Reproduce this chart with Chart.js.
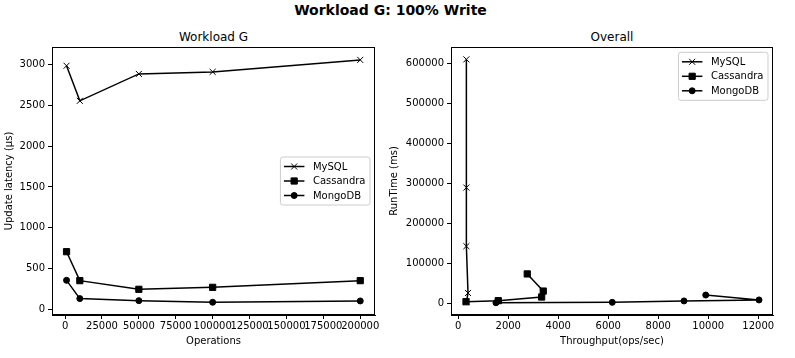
<!DOCTYPE html>
<html><head><meta charset="utf-8">
<script src="https://cdn.jsdelivr.net/npm/chart.js@4.4.1/dist/chart.umd.min.js"></script>
<style>
html,body{margin:0;padding:0;background:#fff;}
body{width:795px;height:358px;position:relative;overflow:hidden;font-family:"DejaVu Sans",sans-serif;}
canvas{position:absolute;top:0;}
#c1{left:0}
#c2{left:385px}
.t{position:absolute;color:#000;white-space:nowrap;transform:translate(-50%,-50%);line-height:1;}
</style></head><body>
<div class="t" style="left:390.5px;top:9.5px;font-weight:bold;font-size:14px">Workload G: 100% Write</div>
<div class="t" style="left:213.5px;top:37px;font-size:12px">Workload G</div>
<div class="t" style="left:612px;top:37px;font-size:12px">Overall</div>
<canvas id="c1" width="397" height="358"></canvas>
<canvas id="c2" width="410" height="358"></canvas>
<script>
// ---- data ----
const seriesNames = ['MySQL', 'Cassandra', 'MongoDB'];
const operations = [1000, 10000, 50000, 100000, 200000];
const mysqlLatency = [2985, 2555, 2885, 2910, 3057];
const cassandraLatency = [706, 351, 245, 269, 351];
const mongoLatency = [355, 131, 106, 86, 102];

const mysqlThroughput = [330, 390, 325, 325, 325];
const mysqlRuntime = [3200, 25200, 142600, 289500, 611000];
const cassandraThroughput = [310, 1600, 3336, 3400, 2760];
const cassandraRuntime = [3300, 6000, 15100, 30000, 73000];
const mongoThroughput = [1508, 6160, 9030, 12030, 9900];
const mongoRuntime = [660, 1700, 5300, 7800, 20100];

const opsTicks = [0, 25000, 50000, 75000, 100000, 125000, 150000, 175000, 200000];
const latencyTicks = [0, 500, 1000, 1500, 2000, 2500, 3000];
const throughputTicks = [0, 2000, 4000, 6000, 8000, 10000, 12000];
const runtimeTicks = [0, 100000, 200000, 300000, 400000, 500000, 600000];

// ---- styling ----
const FONT = '"DejaVu Sans", sans-serif';
Chart.defaults.font.family = FONT;
Chart.defaults.color = '#000';

const markerStyles = [
  {pointStyle: 'crossRot', pointRadius: 4.25},
  {pointStyle: 'rect', pointRadius: 4.4},
  {pointStyle: 'circle', pointRadius: 3}
];

function makeDatasets(xs, ys) {
  return seriesNames.map((name, i) => ({
    label: name,
    data: xs[i].map((x, j) => ({x: x, y: ys[i][j]})),
    showLine: true,
    borderColor: '#000',
    borderWidth: 1.5,
    backgroundColor: '#000',
    pointBackgroundColor: '#000',
    pointBorderColor: '#000',
    pointBorderWidth: 1,
    pointStyle: markerStyles[i].pointStyle,
    pointRadius: markerStyles[i].pointRadius,
    pointHoverRadius: markerStyles[i].pointRadius,
    tension: 0
  }));
}

function drawMarker(ctx, style, x, y) {
  ctx.beginPath();
  if (style === 'circle') {
    ctx.arc(x, y, 3, 0, Math.PI * 2);
    ctx.fill(); ctx.stroke();
  } else if (style === 'rect') {
    ctx.rect(x - 3.1, y - 3.1, 6.2, 6.2);
    ctx.fill(); ctx.stroke();
  } else {
    ctx.moveTo(x - 3, y - 3); ctx.lineTo(x + 3, y + 3);
    ctx.moveTo(x + 3, y - 3); ctx.lineTo(x - 3, y + 3);
    ctx.stroke();
  }
}

const framePlugin = {
  id: 'frame',
  afterDraw(chart, args, opts) {
    const ctx = chart.ctx, ca = chart.chartArea;
    ctx.save();
    ctx.strokeStyle = '#000';
    ctx.lineWidth = 1;
    ctx.strokeRect(Math.round(ca.left) + 0.5, Math.round(ca.top) + 0.5,
      Math.round(ca.right - ca.left) - 1, Math.round(ca.bottom - ca.top) - 1);
    // legend
    const items = chart.data.datasets;
    ctx.font = '10px ' + FONT;
    const tw = Math.max(...items.map(d => ctx.measureText(d.label).width));
    const pad = 4.5, handle = 20.5, gap = 7.5, rowH = 10, spacing = 4.5;
    const w = pad * 2 + handle + gap + tw;
    const h = pad * 2 + items.length * rowH + (items.length - 1) * spacing;
    const x = ca.right - 5 - w;
    const y = opts.loc === 'upper right' ? ca.top + 5.3 : (ca.top + ca.bottom) / 2 - h / 2;
    ctx.beginPath();
    if (ctx.roundRect) ctx.roundRect(x, y, w, h, 2.5); else ctx.rect(x, y, w, h);
    ctx.fillStyle = 'rgba(255,255,255,0.8)';
    ctx.fill();
    ctx.strokeStyle = '#cccccc';
    ctx.lineWidth = 1;
    ctx.stroke();
    items.forEach((d, i) => {
      const cy = y + pad + rowH / 2 + i * (rowH + spacing);
      ctx.strokeStyle = '#000';
      ctx.fillStyle = '#000';
      ctx.lineWidth = 1.5;
      ctx.beginPath();
      ctx.moveTo(x + pad - 1, cy); ctx.lineTo(x + pad + handle - 1, cy);
      ctx.stroke();
      ctx.lineWidth = 1;
      drawMarker(ctx, d.pointStyle, x + pad + handle / 2 - 1, cy);
      ctx.fillStyle = '#000';
      ctx.textBaseline = 'middle';
      ctx.textAlign = 'left';
      ctx.fillText(d.label, x + pad + handle + gap, cy + 0.5);
    });
    ctx.restore();
  }
};

function axis(opts) {
  return {
    type: 'linear',
    position: opts.position,
    min: opts.min,
    max: opts.max,
    afterBuildTicks: s => { s.ticks = opts.ticks.map(v => ({value: v})); },
    afterFit: opts.fit,
    ticks: {
      callback: v => String(v),
      autoSkip: false,
      maxRotation: 0,
      minRotation: 0,
      color: '#000',
      font: {size: 10, family: FONT},
      padding: opts.tickPad
    },
    grid: {
      display: true,
      drawOnChartArea: false,
      drawTicks: true,
      tickLength: 4,
      tickColor: '#000',
      tickWidth: 1
    },
    border: {display: true, color: '#000', width: 1},
    title: {
      display: true,
      text: opts.title,
      color: '#000',
      font: {size: 10, family: FONT},
      padding: opts.titlePad
    }
  };
}

function makeChart(id, datasets, xOpts, yOpts, rightPad, loc) {
  return new Chart(document.getElementById(id), {
    type: 'scatter',
    data: {datasets: datasets},
    options: {
      responsive: false,
      animation: false,
      devicePixelRatio: 1,
      layout: {padding: {top: 47, right: rightPad, left: 0, bottom: 0}},
      plugins: {legend: {display: false}, tooltip: {enabled: false}, frame: {loc: loc}},
      scales: {x: axis(xOpts), y: axis(yOpts)}
    },
    plugins: [framePlugin]
  });
}

makeChart('c1',
  makeDatasets([operations, operations, operations], [mysqlLatency, cassandraLatency, mongoLatency]),
  {position: 'bottom', min: -8850, max: 210000, ticks: opsTicks, title: 'Operations',
   tickPad: 1, titlePad: {top: 0, bottom: 11}, fit: s => { s.height = 43; }},
  {position: 'left', min: -70, max: 3215, ticks: latencyTicks, title: 'Update latency (μs)',
   tickPad: 3, titlePad: {top: 3.3, bottom: 0}, fit: s => { s.width = 52; }},
  22, 'center right');

makeChart('c2',
  makeDatasets([mysqlThroughput, cassandraThroughput, mongoThroughput], [mysqlRuntime, cassandraRuntime, mongoRuntime]),
  {position: 'bottom', min: -290, max: 12590, ticks: throughputTicks, title: 'Throughput(ops/sec)',
   tickPad: 1, titlePad: {top: 0, bottom: 11}, fit: s => { s.height = 43; }},
  {position: 'left', min: -30000, max: 642000, ticks: runtimeTicks, title: 'RunTime (ms)',
   tickPad: 3, titlePad: {top: 3.5, bottom: 0}, fit: s => { s.width = 66; }},
  22, 'upper right');
</script>
</body></html>
